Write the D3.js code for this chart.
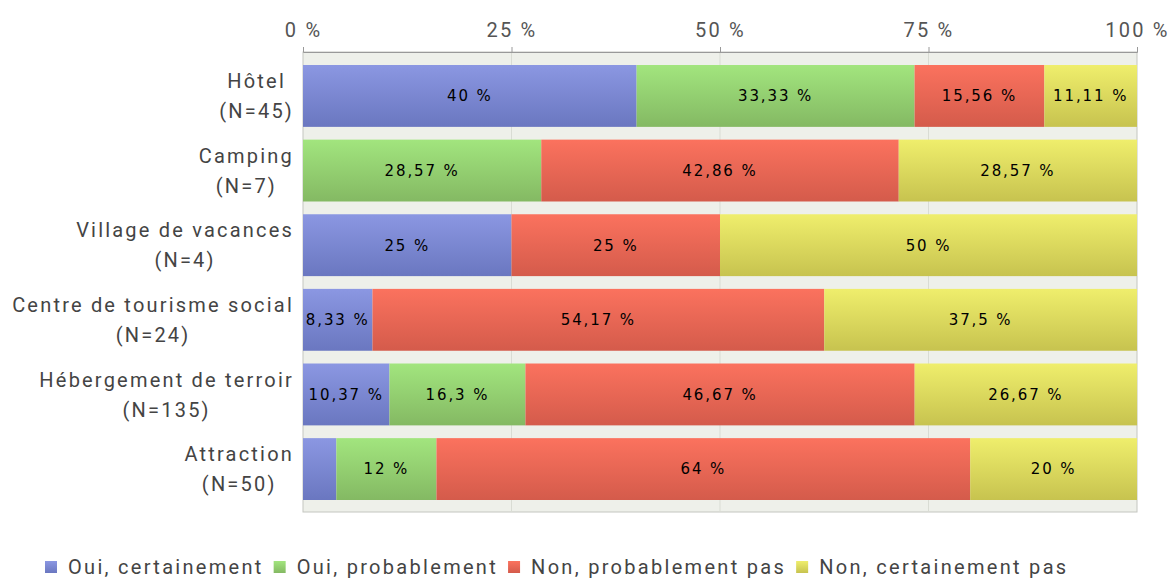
<!DOCTYPE html>
<html>
<head>
<meta charset="utf-8">
<script src="https://cdn.jsdelivr.net/npm/d3@7"></script>
<style>
  body { margin: 0; background: #fff; }
  svg { display: block; }
</style>
</head>
<body>
<svg id="chart"></svg>
<script>
// categories and their N
const categories = ["Hôtel", "Camping", "Village de vacances", "Centre de tourisme social", "Hébergement de terroir", "Attraction"];
const counts = [45, 7, 4, 24, 135, 50];

// answer series (% per category)
const series = ["Oui, certainement", "Oui, probablement", "Non, probablement pas", "Non, certainement pas"];
const ouiCertainement = [40, 0, 25, 8.33, 10.37, 4];
const ouiProbablement = [33.33, 28.57, 0, 0, 16.3, 12];
const nonProbablement = [15.56, 42.86, 25, 54.17, 46.67, 64];
const nonCertainement = [11.11, 28.57, 50, 37.5, 26.67, 20];
const tickValues = [0, 25, 50, 75, 100];

const values = [ouiCertainement, ouiProbablement, nonProbablement, nonCertainement];
const colors = [
  ["#8b97e2", "#6a77c0"],
  ["#a2e57e", "#84b963"],
  ["#fb725e", "#d45b4b"],
  ["#efee6c", "#c7c34f"]
];

const width = 1168, height = 578;
const margin = { top: 52, right: 31, bottom: 66, left: 303 };

const labelFont = { family: "Roboto, sans-serif", size: "20px", spacing: "2.2px" };

const svg = d3.select("#chart").attr("width", width).attr("height", height);

const defs = svg.append("defs");
colors.forEach((c, i) => {
  const g = defs.append("linearGradient").attr("id", "grad" + i)
    .attr("x1", 0).attr("y1", 0).attr("x2", 0).attr("y2", 1);
  g.append("stop").attr("offset", "0%").attr("stop-color", c[0]);
  g.append("stop").attr("offset", "100%").attr("stop-color", c[1]);
});

const x = d3.scaleLinear().domain([0, 100]).range([margin.left, width - margin.right]);
const y = d3.scaleBand().domain(categories).range([65, 500]).paddingInner(0.171).paddingOuter(0);

// plot background
svg.append("rect")
  .attr("x", x(0)).attr("y", margin.top)
  .attr("width", x(100) - x(0)).attr("height", height - margin.bottom - margin.top)
  .attr("fill", "#eef0ea")
  .attr("stroke", "#c4c6c0");

// vertical grid
svg.append("g").selectAll("line")
  .data(tickValues.slice(1, -1))
  .join("line")
  .attr("x1", d => x(d)).attr("x2", d => x(d))
  .attr("y1", margin.top).attr("y2", height - margin.bottom)
  .attr("stroke", "#d9dcd4");

// top axis
const xAxis = d3.axisTop(x).tickValues(tickValues).tickSize(5).tickPadding(10)
  .tickFormat(d => d + " %");
const ax = svg.append("g").attr("transform", `translate(0,${margin.top})`).call(xAxis);
ax.select(".domain").attr("stroke", "#999");
ax.selectAll(".tick line").attr("stroke", "#999");
ax.selectAll(".tick text")
  .attr("fill", "#555")
  .style("font-family", labelFont.family)
  .style("font-size", labelFont.size)
  .style("letter-spacing", labelFont.spacing);

// stacked segments
const rows = categories.map((cat, i) => {
  let acc = 0;
  return values.map((s, k) => {
    const v = s[i];
    const seg = { cat, k, v, x0: acc, x1: acc + v };
    acc += v;
    return seg;
  }).filter(d => d.v > 0);
});
const segs = rows.flat();

const fmt = v => (Math.round(v * 100) / 100).toString().replace(".", ",") + " %";

svg.append("g").selectAll("rect")
  .data(segs)
  .join("rect")
  .attr("x", d => x(d.x0))
  .attr("y", d => y(d.cat))
  .attr("width", d => x(d.x1) - x(d.x0))
  .attr("height", y.bandwidth())
  .attr("fill", d => `url(#grad${d.k})`);

svg.append("g").selectAll("text")
  .data(segs.filter(d => x(d.x1) - x(d.x0) > 45))
  .join("text")
  .attr("x", d => (x(d.x0) + x(d.x1)) / 2)
  .attr("y", d => y(d.cat) + y.bandwidth() / 2)
  .attr("dy", "0.36em")
  .attr("text-anchor", "middle")
  .attr("fill", "#000")
  .style("font-family", "'DejaVu Sans', sans-serif")
  .style("font-size", "15px")
  .style("letter-spacing", "1.9px")
  .text(d => fmt(d.v));

// category labels (two centered lines, block right-aligned)
const labelRight = 294;
categories.forEach((cat, i) => {
  const g = svg.append("g");
  const cy = y(cat) + y.bandwidth() / 2;
  const lines = [cat, `(N=${counts[i]})`];
  const texts = lines.map((t, j) => g.append("text")
    .attr("y", cy + (j === 0 ? -15 : 15))
    .attr("dy", "0.36em")
    .attr("text-anchor", "middle")
    .attr("fill", "#444")
    .style("font-family", labelFont.family)
    .style("font-size", labelFont.size)
    .style("letter-spacing", labelFont.spacing)
    .text(t));
  const w = d3.max(texts, t => t.node().getComputedTextLength());
  texts.forEach(t => t.attr("x", labelRight - w / 2));
});

// legend
let lx = 45;
const ly = 567;
const legend = svg.append("g");
series.forEach((name, k) => {
  legend.append("rect")
    .attr("x", lx).attr("y", ly - 6)
    .attr("width", 12).attr("height", 12)
    .attr("fill", `url(#grad${k})`);
  const t = legend.append("text")
    .attr("x", lx + 23).attr("y", ly)
    .attr("dy", "0.36em")
    .attr("fill", "#444")
    .style("font-family", labelFont.family)
    .style("font-size", labelFont.size)
    .style("letter-spacing", "2.3px")
    .text(name);
  lx += 23 + t.node().getComputedTextLength() + 10;
});
</script>
</body>
</html>
